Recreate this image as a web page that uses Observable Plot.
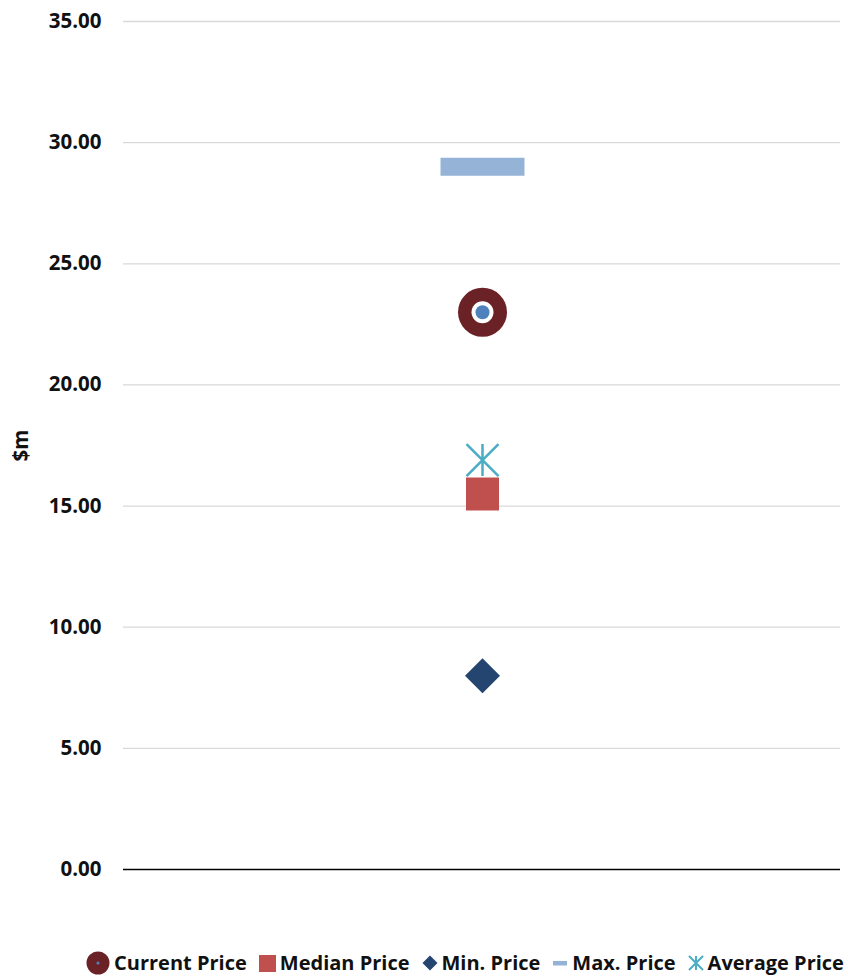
<!DOCTYPE html>
<html>
<head>
<meta charset="utf-8">
<script src="https://cdn.jsdelivr.net/npm/d3@7"></script>
<script src="https://cdn.jsdelivr.net/npm/@observablehq/plot@0.6"></script>
<style>
  html, body { margin: 0; padding: 0; background: #fff; }
  body { width: 848px; height: 978px; overflow: hidden; font-family: "Open Sans", sans-serif; }
  #legend { display: flex; justify-content: center; align-items: center; height: 30px; padding-left: 82px; box-sizing: border-box; width: 848px;
            font-family: "Open Sans", sans-serif; font-weight: 700; font-size: 20px; line-height: 26px; color: #111; white-space: nowrap; }
  #legend .item { display: flex; align-items: center; margin-right: 12px; }
  #legend .item:last-child { margin-right: 0; }
  #legend svg { margin-right: 4px; }
</style>
</head>
<body>
<div id="chart"></div>
<div id="legend"></div>
<script>
// ---- data ----
const categories = ["Peer group"];
const seriesNames = ["Current Price", "Median Price", "Min. Price", "Max. Price", "Average Price"];
const seriesValues = [23.0, 15.5, 8.0, 29.0, 16.9];
const yTicks = [0, 5, 10, 15, 20, 25, 30, 35];
const yLabel = "$m";

// ---- styles ----
const colors = {
  current: "#6B2226", currentInner: "#4F81BD", median: "#C0504D",
  min: "#234570", max: "#95B3D7", average: "#4BACC6"
};

const rOf = size => Math.sqrt(size / Math.PI);
const symMaxBar = { draw(ctx, size) { const r = rOf(size); const h = r * 9 / 42; ctx.moveTo(-r, -h); ctx.lineTo(r, -h); ctx.lineTo(r, h); ctx.lineTo(-r, h); ctx.closePath(); } };
const symSquare = { draw(ctx, size) { const r = rOf(size); ctx.moveTo(-r, -r); ctx.lineTo(r, -r); ctx.lineTo(r, r); ctx.lineTo(-r, r); ctx.closePath(); } };
const symDiamond = { draw(ctx, size) { const r = rOf(size); ctx.moveTo(0, -r); ctx.lineTo(r, 0); ctx.lineTo(0, r); ctx.lineTo(-r, 0); ctx.closePath(); } };
const symStar = { draw(ctx, size) { const r = rOf(size); ctx.moveTo(0, -r); ctx.lineTo(0, r); ctx.moveTo(-r, -r); ctx.lineTo(r, r); ctx.moveTo(r, -r); ctx.lineTo(-r, r); } };

const rows = seriesNames.map((s, i) => ({ series: s, category: categories[0], value: seriesValues[i] }));
const pick = name => rows.filter(d => d.series === name);

const plot = Plot.plot({
  width: 848,
  height: 948,
  marginTop: 21,
  marginBottom: 79,
  marginLeft: 123,
  marginRight: 8,
  style: { fontFamily: "Open Sans, sans-serif", fontWeight: 700, fontSize: "20.5px", color: "#111", background: "#fff" },
  x: { type: "point", domain: categories, axis: null },
  y: { domain: [0, 35] },
  marks: [
    Plot.ruleY(yTicks.filter(t => t > 0), { stroke: "#D9D9D9", strokeWidth: 1.3, strokeOpacity: 1 }),
    Plot.ruleY([0], { stroke: "#000", strokeWidth: 1.5 }),
    Plot.axisY({ ticks: yTicks, tickFormat: d => d.toFixed(2), tickSize: 0, tickPadding: 22,
                 label: yLabel, labelAnchor: "center", labelArrow: "none", labelOffset: 110 }),
    // Current price: dark red ring with blue centre
    Plot.dot(pick("Current Price"), { x: "category", y: "value", r: 24.5, fill: colors.current, stroke: "none" }),
    Plot.dot(pick("Current Price"), { x: "category", y: "value", r: 11, fill: "#fff", stroke: "none" }),
    Plot.dot(pick("Current Price"), { x: "category", y: "value", r: 7, fill: colors.currentInner, stroke: "none" }),
    // Median
    Plot.dot(pick("Median Price"), { x: "category", y: "value", r: 16.5, symbol: symSquare, fill: colors.median, stroke: "none" }),
    // Min
    Plot.dot(pick("Min. Price"), { x: "category", y: "value", r: 17.5, symbol: symDiamond, fill: colors.min, stroke: "none" }),
    // Max
    Plot.dot(pick("Max. Price"), { x: "category", y: "value", r: 42, symbol: symMaxBar, fill: colors.max, stroke: "none" }),
    // Average
    Plot.dot(pick("Average Price"), { x: "category", y: "value", r: 16, symbol: symStar, fill: "none", stroke: colors.average, strokeWidth: 2.5 })
  ]
});
document.getElementById("chart").appendChild(plot);

// ---- legend ----
const legendSymbols = {
  "Current Price": `<svg width="24" height="24" viewBox="-12 -12 24 24"><circle r="11.5" fill="${colors.current}"/><circle r="1.6" fill="${colors.currentInner}"/></svg>`,
  "Median Price": `<svg width="17" height="17" viewBox="0 0 17 17"><rect width="17" height="17" fill="${colors.median}"/></svg>`,
  "Min. Price": `<svg width="16" height="16" viewBox="-8 -8 16 16"><path d="M0,-7.5L7.5,0L0,7.5L-7.5,0Z" fill="${colors.min}"/></svg>`,
  "Max. Price": `<svg width="16" height="16" viewBox="0 0 16 16"><rect x="1" y="6" width="14" height="4.5" fill="${colors.max}"/></svg>`,
  "Average Price": `<svg width="16" height="16" viewBox="-8 -8 16 16"><path d="M0,-7L0,7M-7,-7L7,7M7,-7L-7,7" stroke="${colors.average}" stroke-width="2" fill="none"/></svg>`
};
const legend = document.getElementById("legend");
seriesNames.forEach(name => {
  const item = document.createElement("div");
  item.className = "item";
  item.innerHTML = legendSymbols[name];
  const span = document.createElement("span");
  span.textContent = name;
  item.appendChild(span);
  legend.appendChild(item);
});
</script>
</body>
</html>
